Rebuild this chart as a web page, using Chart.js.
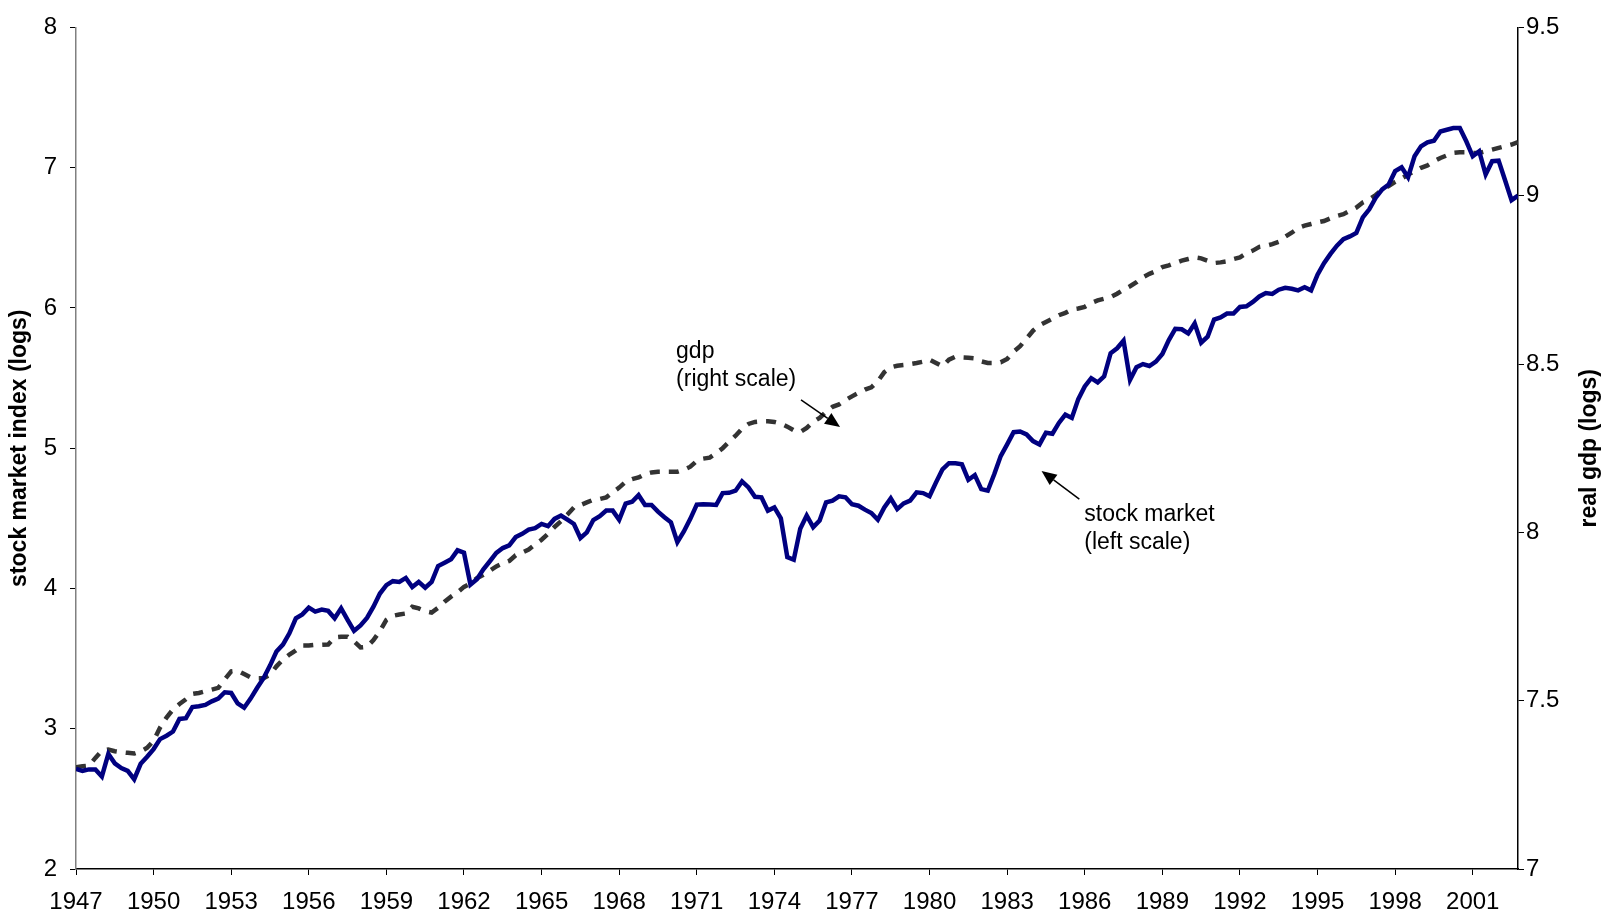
<!DOCTYPE html>
<html>
<head>
<meta charset="utf-8">
<script src="https://cdn.jsdelivr.net/npm/chart.js@4/dist/chart.umd.min.js"></script>
<style>
  body { margin: 0; background: #fff; }
  #wrap { width: 1607px; height: 917px; position: relative; }
</style>
</head>
<body>
<div id="wrap"><canvas id="grafico"></canvas></div>
<script>
// quarterly, 1947Q1 .. 2002Q4
const anoInicial = 1947;
const trimestres = [];
for (let i = 0; i < 224; i++) trimestres.push(anoInicial + i / 4);

const anosEixo = [1947, 1950, 1953, 1956, 1959, 1962, 1965, 1968, 1971, 1974,
                  1977, 1980, 1983, 1986, 1989, 1992, 1995, 1998, 2001];

// stock market index (logs), left scale
const bolsa = [
    2.713, 2.70, 2.71, 2.71, 2.66, 2.82, 2.753, 2.72,
    2.70, 2.64, 2.75, 2.80, 2.855, 2.926, 2.95, 2.98,
    3.07, 3.075, 3.155, 3.16, 3.17, 3.195, 3.215, 3.26,
    3.255, 3.18, 3.15, 3.215, 3.29, 3.36, 3.45, 3.55,
    3.60, 3.68, 3.787, 3.815, 3.863, 3.835, 3.85, 3.84,
    3.787, 3.858, 3.776, 3.698, 3.736, 3.79, 3.87, 3.964,
    4.024, 4.052, 4.047, 4.075, 4.01, 4.047, 4.005, 4.047,
    4.16, 4.184, 4.208, 4.272, 4.255, 4.028, 4.066, 4.137,
    4.194, 4.253, 4.288, 4.307, 4.366, 4.39, 4.42, 4.43,
    4.46, 4.444, 4.496, 4.52, 4.49, 4.46, 4.36, 4.40,
    4.488, 4.515, 4.555, 4.555, 4.49, 4.605, 4.618, 4.665,
    4.595, 4.595, 4.548, 4.508, 4.472, 4.33, 4.406, 4.496,
    4.598, 4.60, 4.598, 4.595, 4.68, 4.682, 4.697, 4.763,
    4.72, 4.654, 4.65, 4.555, 4.578, 4.50, 4.224, 4.205,
    4.425, 4.52, 4.437, 4.484, 4.614, 4.626, 4.657, 4.65,
    4.60, 4.59, 4.562, 4.538, 4.49, 4.578, 4.642, 4.566,
    4.607, 4.626, 4.685, 4.68, 4.657, 4.756, 4.85, 4.893,
    4.893, 4.885, 4.775, 4.808, 4.708, 4.697, 4.814, 4.944,
    5.027, 5.114, 5.119, 5.098, 5.051, 5.027, 5.11, 5.103,
    5.18, 5.239, 5.216, 5.35, 5.44, 5.499, 5.469, 5.512,
    5.677, 5.712, 5.766, 5.487, 5.577, 5.60, 5.586, 5.617,
    5.672, 5.771, 5.851, 5.848, 5.818, 5.889, 5.752, 5.795,
    5.917, 5.932, 5.96, 5.96, 6.007, 6.012, 6.043, 6.082,
    6.106, 6.10, 6.13, 6.144, 6.137, 6.125, 6.147, 6.125,
    6.237, 6.319, 6.385, 6.444, 6.49, 6.51, 6.535, 6.645,
    6.703, 6.786, 6.845, 6.88, 6.975, 7.003, 6.932, 7.081,
    7.152, 7.18, 7.192, 7.258, 7.27, 7.282, 7.282, 7.188,
    7.081, 7.117, 6.952, 7.046, 7.05, 6.91, 6.768, 6.80
];

// real gdp (logs), right scale
const pib = [
    7.302, 7.305, 7.307, 7.33, 7.351, 7.355, 7.35, 7.347,
    7.345, 7.343, 7.349, 7.36, 7.381, 7.42, 7.45, 7.474,
    7.49, 7.504, 7.52, 7.523, 7.528, 7.533, 7.538, 7.563,
    7.587, 7.589, 7.579, 7.569, 7.567, 7.567, 7.577, 7.602,
    7.622, 7.637, 7.649, 7.664, 7.664, 7.666, 7.666, 7.667,
    7.688, 7.69, 7.69, 7.676, 7.658, 7.66, 7.68, 7.707,
    7.74, 7.752, 7.756, 7.759, 7.779, 7.774, 7.766, 7.762,
    7.776, 7.794, 7.809, 7.822, 7.838, 7.848, 7.864, 7.874,
    7.886, 7.899, 7.908, 7.915, 7.932, 7.94, 7.949, 7.964,
    7.978, 7.996, 8.016, 8.033, 8.053, 8.074, 8.081, 8.089,
    8.097, 8.099, 8.104, 8.119, 8.133, 8.15, 8.158, 8.163,
    8.173, 8.178, 8.18, 8.18, 8.18, 8.18, 8.186, 8.195,
    8.212, 8.219, 8.222, 8.235, 8.25, 8.269, 8.287, 8.308,
    8.322, 8.328, 8.33, 8.33, 8.328, 8.323, 8.314, 8.303,
    8.298, 8.31, 8.328, 8.34, 8.358, 8.373, 8.38, 8.393,
    8.404, 8.414, 8.424, 8.431, 8.449, 8.476, 8.49, 8.495,
    8.497, 8.5, 8.503, 8.507, 8.513, 8.503, 8.493, 8.513,
    8.522, 8.52, 8.519, 8.517, 8.508, 8.503, 8.503, 8.505,
    8.515, 8.537, 8.553, 8.576, 8.599, 8.615, 8.625, 8.635,
    8.645, 8.652, 8.662, 8.665, 8.67, 8.681, 8.689, 8.694,
    8.699, 8.709, 8.721, 8.731, 8.743, 8.758, 8.768, 8.776,
    8.788, 8.793, 8.80, 8.807, 8.812, 8.817, 8.814, 8.807,
    8.80, 8.802, 8.805, 8.812, 8.817, 8.829, 8.837, 8.848,
    8.851, 8.856, 8.863, 8.878, 8.89, 8.904, 8.911, 8.916,
    8.921, 8.925, 8.933, 8.94, 8.945, 8.955, 8.965, 8.98,
    8.989, 9.002, 9.019, 9.029, 9.041, 9.051, 9.063, 9.073,
    9.083, 9.09, 9.102, 9.112, 9.12, 9.127, 9.129, 9.129,
    9.127, 9.127, 9.132, 9.137, 9.142, 9.147, 9.152, 9.159
];

// annotations, placed in data units (year, left-scale value)
const notas = [
    { linhas: ["gdp", "(right scale)"], ano: 1970.2, valor: 5.64,
      seta: [1975.03, 5.344, 1976.54, 5.152] },
    { linhas: ["stock market", "(left scale)"], ano: 1985.98, valor: 4.48,
      seta: [1985.79, 4.637, 1984.33, 4.838] }
];

const fonte = "'Liberation Sans', Arial, sans-serif";
const fonteEixo = "'Liberation Sans Narrow', 'Arial Narrow', 'Liberation Sans', sans-serif";

const desenhoExtra = {
    id: "desenhoExtra",
    afterDraw(chart) {
        const ctx = chart.ctx;
        const area = chart.chartArea;
        const sx = chart.scales.x, sy = chart.scales.y;
        ctx.save();

        // axis titles
        ctx.fillStyle = "#000";
        ctx.font = "bold 23px " + fonte;
        ctx.textAlign = "center";
        ctx.textBaseline = "middle";
        const meio = (area.top + area.bottom) / 2;
        ctx.save();
        ctx.translate(area.left - 56, meio);
        ctx.rotate(-Math.PI / 2);
        ctx.fillText("stock market index (logs)", 0, 0);
        ctx.restore();
        ctx.save();
        ctx.translate(area.right + 72, meio);
        ctx.rotate(-Math.PI / 2);
        ctx.fillText("real gdp (logs)", 0, 0);
        ctx.restore();

        // text labels with arrows
        ctx.font = "23px " + fonte;
        ctx.textAlign = "left";
        ctx.textBaseline = "alphabetic";
        notas.forEach(n => {
            const x = sx.getPixelForValue(n.ano);
            const y = sy.getPixelForValue(n.valor);
            n.linhas.forEach((t, k) => ctx.fillText(t, x, y + k * 28));

            const x1 = sx.getPixelForValue(n.seta[0]), y1 = sy.getPixelForValue(n.seta[1]);
            const x2 = sx.getPixelForValue(n.seta[2]), y2 = sy.getPixelForValue(n.seta[3]);
            const ang = Math.atan2(y2 - y1, x2 - x1);
            const comp = 15, larg = 6.5;
            const bx = x2 - comp * Math.cos(ang), by = y2 - comp * Math.sin(ang);
            ctx.strokeStyle = "#000";
            ctx.lineWidth = 1.5;
            ctx.beginPath();
            ctx.moveTo(x1, y1);
            ctx.lineTo(bx, by);
            ctx.stroke();
            ctx.beginPath();
            ctx.moveTo(x2, y2);
            ctx.lineTo(bx + larg * Math.sin(ang), by - larg * Math.cos(ang));
            ctx.lineTo(bx - larg * Math.sin(ang), by + larg * Math.cos(ang));
            ctx.closePath();
            ctx.fill();
        });
        ctx.restore();
    }
};

const ctx = document.getElementById("grafico").getContext("2d");
new Chart(ctx, {
    type: "line",
    data: {
        datasets: [
            {
                label: "stock market",
                data: bolsa.map((v, i) => ({ x: trimestres[i], y: v })),
                yAxisID: "y",
                borderColor: "#000080",
                borderWidth: 4.5,
                pointRadius: 0,
                tension: 0,
                fill: false
            },
            {
                label: "gdp",
                data: pib.map((v, i) => ({ x: trimestres[i], y: v })),
                yAxisID: "y2",
                borderColor: "#333333",
                borderWidth: 4.5,
                borderDash: [10, 9],
                borderCapStyle: "butt",
                pointRadius: 0,
                tension: 0,
                fill: false
            }
        ]
    },
    options: {
        responsive: true,
        maintainAspectRatio: false,
        animation: false,
        layout: { padding: { top: 22, left: 0, right: 0, bottom: 0 } },
        plugins: {
            legend: { display: false },
            tooltip: { enabled: false }
        },
        scales: {
            x: {
                type: "linear",
                min: anoInicial,
                max: trimestres[trimestres.length - 1],
                afterBuildTicks: s => { s.ticks = anosEixo.map(a => ({ value: a })); },
                afterFit: s => { s.height = 48; },
                ticks: {
                    autoSkip: false,
                    maxRotation: 0,
                    padding: 13,
                    color: "#000",
                    font: { family: fonteEixo, size: 24 },
                    callback: v => String(v)
                },
                grid: { drawOnChartArea: false, tickLength: 6, color: "#000" },
                border: { color: "#000", width: 1.5 }
            },
            y: {
                position: "left",
                min: 2,
                max: 8,
                afterFit: s => { s.width = 76; },
                ticks: {
                    stepSize: 1,
                    padding: 13,
                    color: "#000",
                    font: { family: fonteEixo, size: 24 },
                    callback: v => String(v)
                },
                grid: { drawOnChartArea: false, tickLength: 6, color: "#000" },
                border: { color: "#808080", width: 1.5 }
            },
            y2: {
                position: "right",
                min: 7,
                max: 9.5,
                afterFit: s => { s.width = 89; },
                ticks: {
                    stepSize: 0.5,
                    padding: 2,
                    color: "#000",
                    font: { family: fonteEixo, size: 24 },
                    callback: v => String(v)
                },
                grid: { drawOnChartArea: false, tickLength: 6, color: "#000" },
                border: { color: "#000", width: 1.5 }
            }
        }
    },
    plugins: [desenhoExtra]
});
</script>
</body>
</html>
